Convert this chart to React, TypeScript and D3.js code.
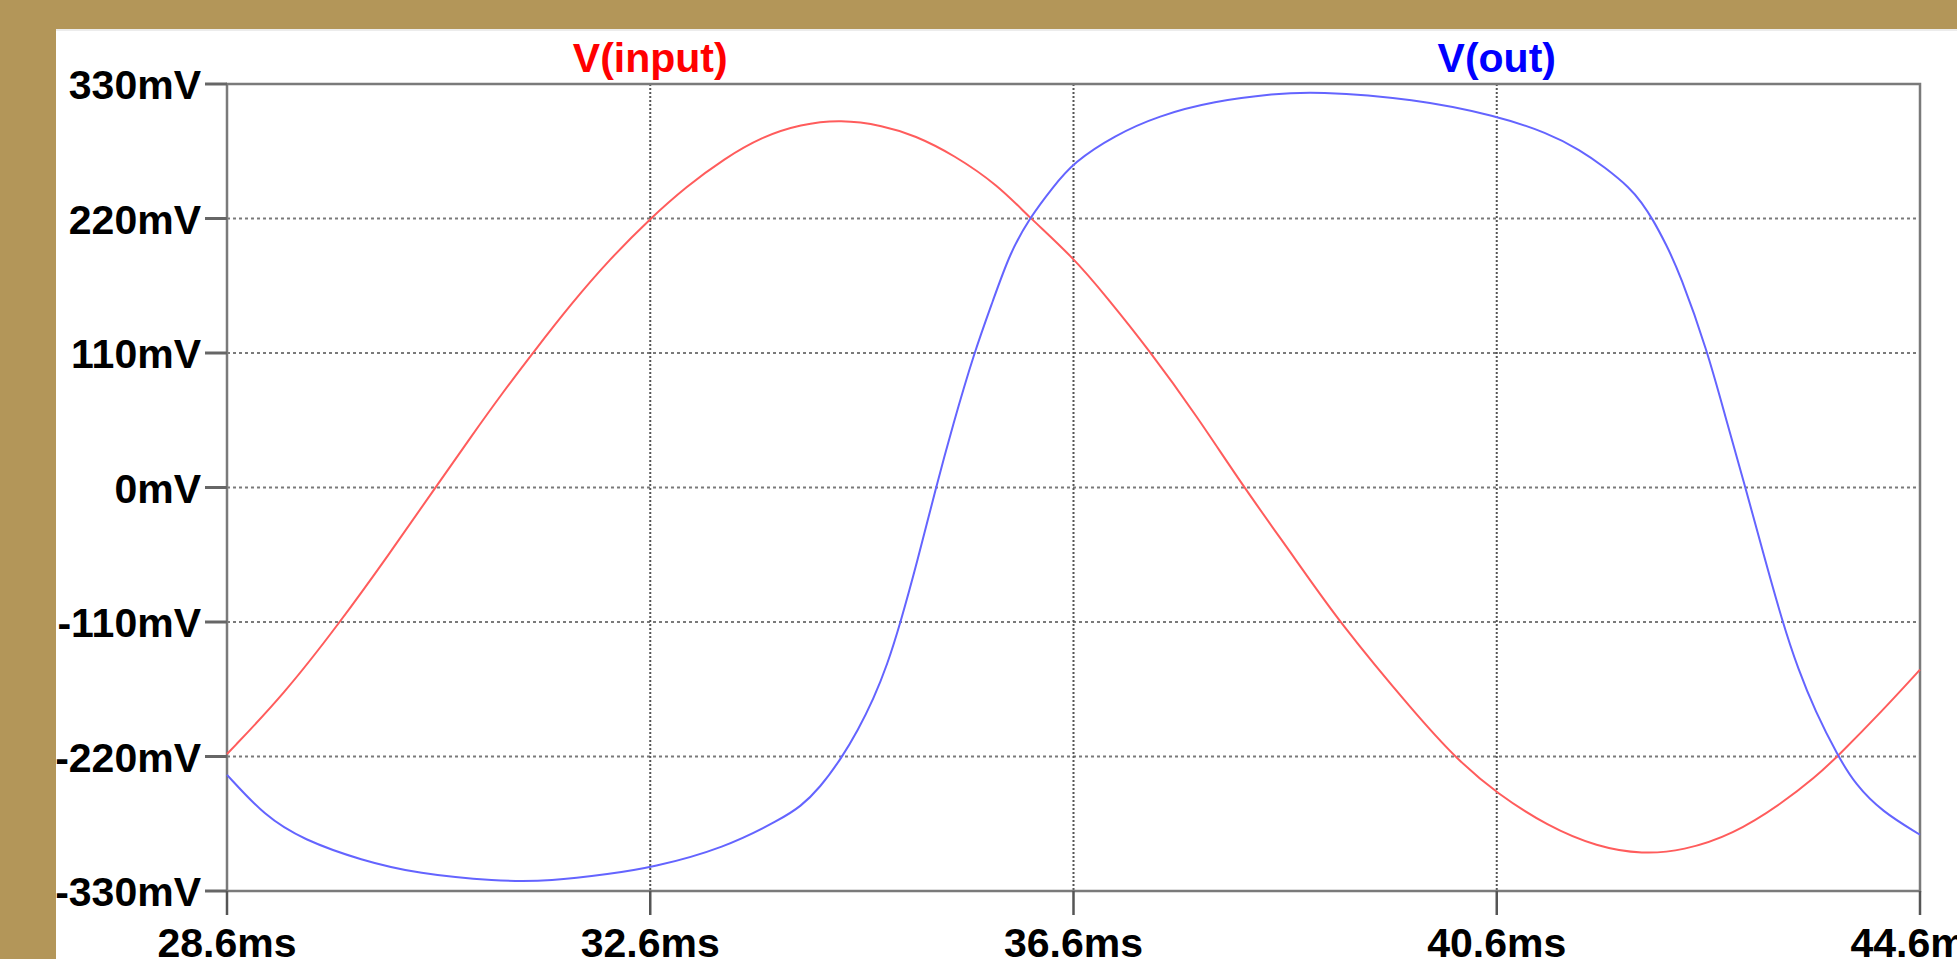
import React, { useEffect, useRef } from "react";
import * as d3 from "d3";

// time (ms) / voltage (mV)
const inputTime = [28.6, 29.14, 29.67, 30.12, 30.57, 30.91, 31.2, 31.49, 31.85, 32.22, 32.6, 32.94, 33.3, 33.66, 34.02, 34.4, 34.8, 35.1, 35.47, 35.89, 36.17, 36.6, 36.92, 37.3, 37.77, 38.21, 38.71, 39.11, 39.82, 40.23, 40.6, 41.08, 41.55, 41.98, 42.36, 42.83, 43.3, 43.61, 43.82, 44.24, 44.6];
const inputValues = [-218, -169, -110, -56, 0, 42, 77, 110, 150, 187, 220, 246, 269, 287, 297, 301, 296, 288, 272, 247, 222, 188, 155, 114, 58, 0, -60, -110, -184, -223, -250, -277, -294, -300, -297, -284, -258, -237, -220, -183, -149];

const outTime = [28.6, 28.96, 29.32, 29.87, 30.41, 31.13, 31.67, 32.22, 32.61, 33.3, 33.84, 34.02, 34.2, 34.41, 34.56, 34.71, 34.84, 34.96, 35.12, 35.3, 35.46, 35.66, 35.84, 36.0, 36.19, 36.4, 36.6, 36.99, 37.4, 37.93, 38.5, 38.88, 39.82, 40.6, 41.08, 41.39, 41.62, 41.86, 41.97, 42.07, 42.2, 42.33, 42.59, 42.76, 42.95, 43.11, 43.3, 43.45, 43.61, 43.82, 43.99, 44.24, 44.6];
const outValues = [-235, -269, -288, -305, -316, -322, -322, -316, -311, -295, -271, -261, -246, -221, -199, -173, -145, -112, -62, 0, 51, 110, 153, 192, 221, 245, 266, 288, 304, 316, 322, 324, 318, 304, 290, 276, 262, 245, 233, 220, 199, 175, 112, 58, 0, -51, -110, -149, -183, -219, -243, -265, -284];

const xTicks = [28.6, 32.6, 36.6, 40.6, 44.6];
const yTicks = [330, 220, 110, 0, -110, -220, -330];

const seriesNames = ["V(input)", "V(out)"];
const labelAt = [32.6, 40.6];

const App = () => {
  const ref = useRef<SVGSVGElement>(null);

  useEffect(() => {
    const svg = d3.select(ref.current);
    svg.selectAll("*").remove();

    const width = 1957;
    const height = 959;
    const left = 227;
    const right = 1920;
    const top = 84;
    const bottom = 891;

    const x = d3.scaleLinear().domain([28.6, 44.6]).range([left, right]);
    const y = d3.scaleLinear().domain([-330, 330]).range([bottom, top]);

    // background + white panel
    svg.append("rect").attr("width", width).attr("height", height).attr("fill", "#b39659");
    svg.append("rect").attr("x", 56).attr("y", 29).attr("width", width - 56).attr("height", height - 29).attr("fill", "#ffffff");
    svg.append("line").attr("x1", 56).attr("x2", width).attr("y1", 30).attr("y2", 30)
      .attr("stroke", "#ececec").attr("stroke-width", 2);

    // grid
    svg.append("g")
      .selectAll("line")
      .data(yTicks.slice(1, -1))
      .enter()
      .append("line")
      .attr("x1", left).attr("x2", right)
      .attr("y1", d => y(d)).attr("y2", d => y(d))
      .attr("stroke", "#7a7a7a")
      .attr("stroke-width", 2)
      .attr("stroke-dasharray", "3,3");

    svg.append("g")
      .selectAll("line")
      .data(xTicks.slice(1, -1))
      .enter()
      .append("line")
      .attr("x1", d => x(d)).attr("x2", d => x(d))
      .attr("y1", top).attr("y2", bottom)
      .attr("stroke", "#555")
      .attr("stroke-width", 2)
      .attr("stroke-dasharray", "2,2");

    // frame
    svg.append("rect")
      .attr("x", left).attr("y", top)
      .attr("width", right - left).attr("height", bottom - top)
      .attr("fill", "none")
      .attr("stroke", "#7a7a7a")
      .attr("stroke-width", 2.5);

    // tick marks
    svg.append("g")
      .selectAll("line")
      .data(yTicks)
      .enter()
      .append("line")
      .attr("x1", 205).attr("x2", left)
      .attr("y1", d => y(d)).attr("y2", d => y(d))
      .attr("stroke", "#666")
      .attr("stroke-width", 3);

    svg.append("g")
      .selectAll("line")
      .data(xTicks)
      .enter()
      .append("line")
      .attr("x1", d => x(d)).attr("x2", d => x(d))
      .attr("y1", bottom).attr("y2", 915)
      .attr("stroke", "#555")
      .attr("stroke-width", 2.5);

    const font = "'Liberation Sans', Arial, sans-serif";

    svg.append("g")
      .selectAll("text")
      .data(yTicks)
      .enter()
      .append("text")
      .attr("x", 201)
      .attr("y", d => y(d) + 15)
      .attr("text-anchor", "end")
      .attr("font-family", font)
      .attr("font-weight", "bold")
      .attr("font-size", 41)
      .attr("fill", "#000")
      .text(d => d + "mV");

    svg.append("g")
      .selectAll("text")
      .data(xTicks)
      .enter()
      .append("text")
      .attr("x", d => x(d))
      .attr("y", 957)
      .attr("text-anchor", "middle")
      .attr("font-family", font)
      .attr("font-weight", "bold")
      .attr("font-size", 41)
      .attr("fill", "#000")
      .text(d => d.toFixed(1) + "ms");

    // traces
    const line = d3.line<[number, number]>()
      .x(d => x(d[0]))
      .y(d => y(d[1]))
      .curve(d3.curveBasis);

    const traces = [
      { pts: inputTime.map((t, i) => [t, inputValues[i]] as [number, number]), color: "#ff5c5c" },
      { pts: outTime.map((t, i) => [t, outValues[i]] as [number, number]), color: "#6464ff" },
    ];

    svg.append("g")
      .selectAll("path")
      .data(traces)
      .enter()
      .append("path")
      .attr("d", d => line(d.pts))
      .attr("fill", "none")
      .attr("stroke", d => d.color)
      .attr("stroke-width", 2);

    // trace names
    const nameColors = ["#ff0000", "#0000ff"];
    svg.append("g")
      .selectAll("text")
      .data(seriesNames)
      .enter()
      .append("text")
      .attr("x", (d, i) => x(labelAt[i]))
      .attr("y", 72)
      .attr("text-anchor", "middle")
      .attr("font-family", font)
      .attr("font-weight", "bold")
      .attr("font-size", 41)
      .attr("fill", (d, i) => nameColors[i])
      .text(d => d);
  }, []);

  return (
    <div style={{ position: "fixed", left: 0, top: 0, width: 1957, height: 959, overflow: "hidden" }}>
      <svg ref={ref} width={1957} height={959} style={{ display: "block" }}></svg>
    </div>
  );
};

export default App;
